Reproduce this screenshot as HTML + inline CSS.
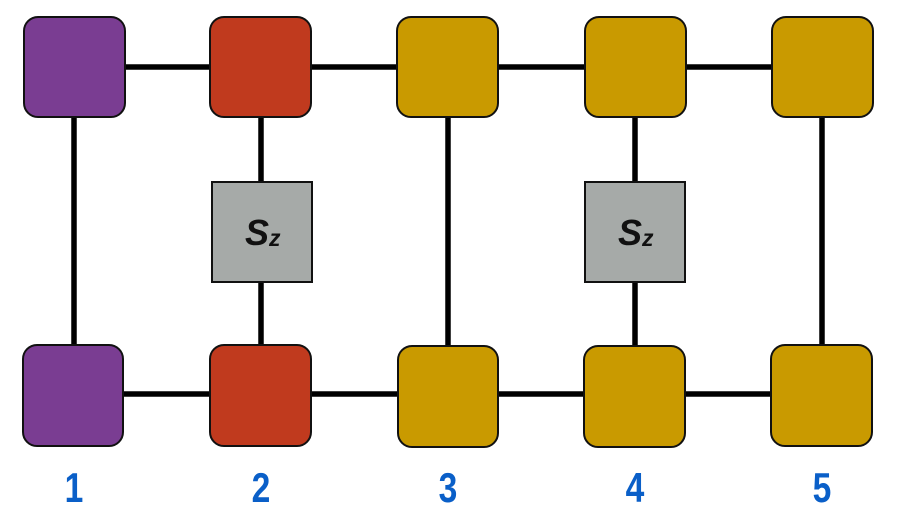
<!DOCTYPE html>
<html><head><style>
html,body{margin:0;padding:0;background:#fff;width:901px;height:524px;overflow:hidden}
</style></head><body>
<svg width="901" height="524" xmlns="http://www.w3.org/2000/svg">
<g stroke="#000" stroke-width="5.5" fill="none">
<line x1="74" y1="67" x2="822" y2="67"/>
<line x1="73" y1="394" x2="822" y2="394"/>
<line x1="74" y1="67" x2="74" y2="394"/>
<line x1="261" y1="67" x2="261" y2="394"/>
<line x1="448" y1="67" x2="448" y2="394"/>
<line x1="635" y1="67" x2="635" y2="394"/>
<line x1="822" y1="67" x2="822" y2="394"/>
</g>
<g stroke="#111" stroke-width="2">
<rect x="24" y="17" width="101" height="100" rx="14" fill="#7a3d92"/>
<rect x="210" y="17" width="101" height="100" rx="14" fill="#c03a1e"/>
<rect x="397" y="17" width="101" height="100" rx="14" fill="#c99a00"/>
<rect x="585" y="17" width="101" height="100" rx="14" fill="#c99a00"/>
<rect x="772" y="17" width="101" height="100" rx="14" fill="#c99a00"/>
<rect x="23" y="345" width="100" height="101" rx="14" fill="#7a3d92"/>
<rect x="210" y="345" width="101" height="101" rx="14" fill="#c03a1e"/>
<rect x="398" y="346" width="100" height="101" rx="14" fill="#c99a00"/>
<rect x="584" y="346" width="101" height="101" rx="14" fill="#c99a00"/>
<rect x="771" y="345" width="101" height="101" rx="14" fill="#c99a00"/>
<rect x="212" y="182" width="100" height="100" fill="#a6aaa8"/>
<rect x="585" y="182" width="100" height="100" fill="#a6aaa8"/>
</g>
<g font-family="Liberation Sans, sans-serif" font-weight="bold" font-style="italic" fill="#111">
<text x="245" y="245" font-size="36">S<tspan font-size="23" dy="1">z</tspan></text>
<text x="618" y="245" font-size="36">S<tspan font-size="23" dy="1">z</tspan></text>
</g>
<g font-family="Liberation Sans Narrow, Liberation Sans, sans-serif" font-weight="bold" fill="#0a5fc8" font-size="42" text-anchor="middle">
<text transform="translate(74,502) scale(0.8,1)">1</text>
<text transform="translate(261,502) scale(0.8,1)">2</text>
<text transform="translate(448,502) scale(0.8,1)">3</text>
<text transform="translate(635,502) scale(0.8,1)">4</text>
<text transform="translate(822,502) scale(0.8,1)">5</text>
</g>
</svg>
</body></html>
